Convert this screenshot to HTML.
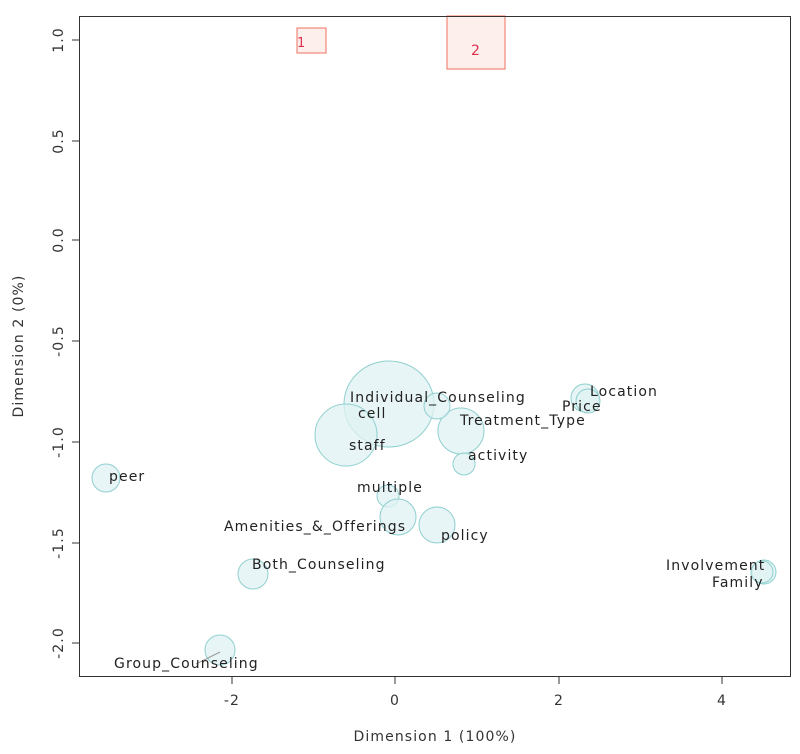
<!DOCTYPE html>
<html><head><meta charset="utf-8"><style>body{margin:0;background:#fff}</style></head><body>
<svg width="800" height="749" xmlns="http://www.w3.org/2000/svg" font-family="'DejaVu Sans','Liberation Sans',sans-serif">
<rect width="800" height="749" fill="#fff"/>
<g fill="#e0f2f3" fill-opacity="0.75" stroke="#8fd0cf" stroke-width="1">
<ellipse cx="389" cy="404" rx="45" ry="43"/>
<circle cx="346" cy="435" r="31"/>
<circle cx="461" cy="431" r="23"/>
<circle cx="437" cy="406" r="13"/>
<circle cx="585" cy="398" r="14"/>
<circle cx="588" cy="401" r="12"/>
<circle cx="464" cy="464" r="11"/>
<circle cx="388" cy="496" r="11"/>
<circle cx="398" cy="517" r="18"/>
<circle cx="437" cy="525" r="18"/>
<circle cx="106" cy="478" r="14"/>
<circle cx="253" cy="574" r="15"/>
<circle cx="220" cy="650" r="15"/>
<circle cx="764" cy="572" r="12"/>
<circle cx="762" cy="572" r="11"/>
</g>
<line x1="196" y1="664" x2="220" y2="652" stroke="#999" stroke-width="1"/>
<g font-size="14" fill="#222" letter-spacing="1.1">
<text x="350" y="402">Individual_Counseling</text>
<text x="358" y="418">cell</text>
<text x="590" y="396">Location</text>
<text x="562" y="411">Price</text>
<text x="460" y="425">Treatment_Type</text>
<text x="349" y="450">staff</text>
<text x="468" y="460">activity</text>
<text x="109" y="481">peer</text>
<text x="357" y="492">multiple</text>
<text x="224" y="531">Amenities_&amp;_Offerings</text>
<text x="441" y="540">policy</text>
<text x="252" y="569">Both_Counseling</text>
<text x="666" y="570">Involvement</text>
<text x="712" y="587">Family</text>
<text x="114" y="668">Group_Counseling</text>
</g>
<rect x="297" y="28" width="29" height="25" fill="#fdf0ec" stroke="#f07060"/>
<text x="297" y="47" font-size="13" fill="#e03050">1</text>
<rect x="447" y="16" width="58" height="53" fill="#fdf0ec" stroke="#f07060"/>
<text x="471" y="55" font-size="14" fill="#e03050">2</text>
<rect x="79.5" y="16.5" width="711" height="660" fill="none" stroke="#333" stroke-width="1"/>
<g stroke="#333">
<line x1="232" y1="677" x2="232" y2="684"/><line x1="395" y1="677" x2="395" y2="684"/>
<line x1="559" y1="677" x2="559" y2="684"/><line x1="722" y1="677" x2="722" y2="684"/>
<line x1="72" y1="40" x2="79" y2="40"/><line x1="72" y1="141" x2="79" y2="141"/>
<line x1="72" y1="240" x2="79" y2="240"/><line x1="72" y1="341" x2="79" y2="341"/>
<line x1="72" y1="442" x2="79" y2="442"/><line x1="72" y1="543" x2="79" y2="543"/>
<line x1="72" y1="643" x2="79" y2="643"/>
</g>
<g font-size="14" fill="#333" text-anchor="middle" letter-spacing="1.1">
<text x="232" y="705">-2</text><text x="395" y="705">0</text><text x="559" y="705">2</text><text x="722" y="705">4</text>
<text x="435" y="741">Dimension 1 (100%)</text>
</g>
<g font-size="14" fill="#333" text-anchor="middle" letter-spacing="1.1">
<text transform="translate(63,40) rotate(-90)">1.0</text>
<text transform="translate(63,141) rotate(-90)">0.5</text>
<text transform="translate(63,240) rotate(-90)">0.0</text>
<text transform="translate(63,341) rotate(-90)">-0.5</text>
<text transform="translate(63,442) rotate(-90)">-1.0</text>
<text transform="translate(63,543) rotate(-90)">-1.5</text>
<text transform="translate(63,643) rotate(-90)">-2.0</text>
<text transform="translate(23,346) rotate(-90)">Dimension 2 (0%)</text>
</g>
</svg>
</body></html>
